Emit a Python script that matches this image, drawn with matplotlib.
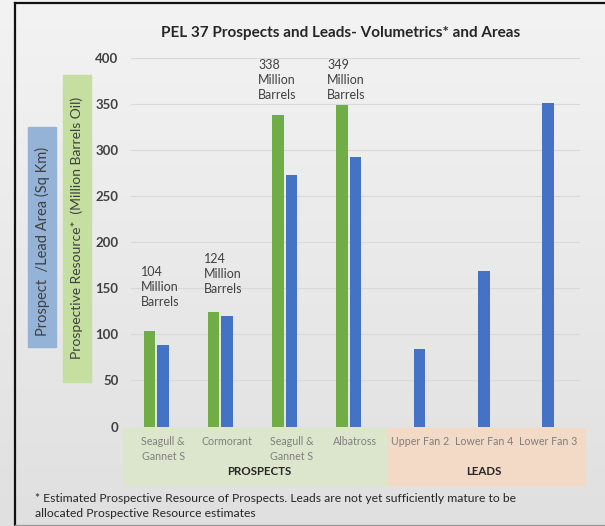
import numpy as np
import matplotlib
matplotlib.use('Agg')
import matplotlib.pyplot as plt
from matplotlib.patches import Rectangle

# chart values
categories = ['Seagull &\nGannet S', 'Cormorant', 'Seagull &\nGannet S', 'Albatross',
              'Upper Fan 2', 'Lower Fan 4', 'Lower Fan 3']
resource = [104, 124, 338, 349, np.nan, np.nan, np.nan]   # million barrels oil
area = [89, 120, 273, 293, 84, 169, 351]                   # sq km
yticks = [0, 50, 100, 150, 200, 250, 300, 350, 400]
n_prospects = 4

title = 'PEL 37 Prospects and Leads- Volumetrics* and Areas'
footnote = ('* Estimated Prospective Resource of Prospects. Leads are not yet sufficiently mature to be\n'
            'allocated Prospective Resource estimates')

plt.rcParams['font.family'] = ['Lato', 'DejaVu Sans']

W, H = 605, 526
fig = plt.figure(figsize=(W / 100, H / 100), dpi=100)


def fx(x):
    return x / W


def fy(y):
    return 1 - y / H


# grey gradient background
bg = fig.add_axes([0, 0, 1, 1], zorder=-10)
grad = np.linspace(0, 1, 256).reshape(-1, 1)
bg.imshow(grad, aspect='auto', cmap=matplotlib.colors.LinearSegmentedColormap.from_list(
    'g', ['#f3f3f3', '#e0e0e0']), extent=[0, 1, 0, 1])
bg.set_axis_off()

# frame lines
fig.add_artist(plt.Line2D([fx(15), fx(15)], [fy(3), fy(526)], color='#111111', lw=1.6))
fig.add_artist(plt.Line2D([fx(15), fx(605)], [fy(3), fy(3)], color='#111111', lw=1.6))
fig.add_artist(plt.Line2D([fx(15), fx(605)], [fy(524.5), fy(524.5)], color='#999999', lw=1.0))

# category bands under the axis
fig.add_artist(Rectangle((fx(123), fy(485)), fx(388) - fx(123), fy(428) - fy(485),
                         transform=fig.transFigure, color='#dce6cc', zorder=-5))
fig.add_artist(Rectangle((fx(388), fy(485)), fx(585) - fx(388), fy(428) - fy(485),
                         transform=fig.transFigure, color='#f2dac6', zorder=-5))

ax = fig.add_axes([fx(131), fy(426.5), fx(580) - fx(131), fy(58.3) - fy(426.5)])
ax.set_facecolor('none')

x = np.arange(len(categories))
slot = 13.5 / 64.2
bw = 11.5 / 64.2
ax.bar(x - slot, resource, bw, color='#70ad47', zorder=3)
ax.bar(x, area, bw, color='#4472c4', zorder=3)

ax.set_xlim(-0.5, len(categories) - 0.5)
ax.set_ylim(0, 400)
ax.set_yticks(yticks)
ax.set_yticklabels([str(t) for t in yticks], fontsize=9.5, fontweight='bold', color='#404040')
ax.tick_params(axis='y', length=0, pad=9)
ax.set_xticks([])
ax.yaxis.grid(True, color='#d9d9d9', lw=0.8, zorder=0)
for s in ax.spines.values():
    s.set_visible(False)

for i, c in enumerate(categories):
    ax.text(i, -10.5, c, ha='center', va='top', fontsize=7.7, color='#7f7f7f',
            linespacing=1.45, clip_on=False)
ax.text((n_prospects - 1) / 2, -49, 'PROSPECTS', ha='center', va='center', fontsize=8.3,
        fontweight='bold', color='#262626', clip_on=False)
ax.text(n_prospects + (len(categories) - n_prospects - 1) / 2, -49, 'LEADS', ha='center',
        va='center', fontsize=8.3, fontweight='bold', color='#262626', clip_on=False)

# value labels for the prospects
label_pos = [(-0.35, 174), (-0.37, 189), (-0.52, 399), (-0.44, 399)]
for i, (dx, ty) in enumerate(label_pos):
    ax.text(i + dx, ty, f'{resource[i]}\nMillion\nBarrels', ha='left', va='top',
            fontsize=9, color='#404040', linespacing=1.3)

# title
fig.text(fx(340.5), fy(33), title, ha='center', va='center', fontsize=11,
         fontweight='bold', color='#262626')

# y-axis label boxes
fig.add_artist(Rectangle((fx(28), fy(347)), fx(56) - fx(28), fy(127) - fy(347),
                         transform=fig.transFigure, color='#95b3d7', zorder=1))
fig.add_artist(Rectangle((fx(63), fy(382)), fx(91) - fx(63), fy(75) - fy(382),
                         transform=fig.transFigure, color='#c4df9f', zorder=1))
fig.text(fx(42), fy(241), 'Prospect  /Lead Area (Sq Km)', rotation=90, ha='center',
         va='center', fontsize=10.5, color='#404040', zorder=2)
fig.text(fx(77), fy(228), 'Prospective Resource*  (Million Barrels Oil)', rotation=90,
         ha='center', va='center', fontsize=10, color='#404040', zorder=2)

# footnote
fig.text(fx(35), fy(506), footnote, ha='left', va='center', fontsize=8.7,
         color='#262626', linespacing=1.4)

fig.savefig('out.png', dpi=100)
